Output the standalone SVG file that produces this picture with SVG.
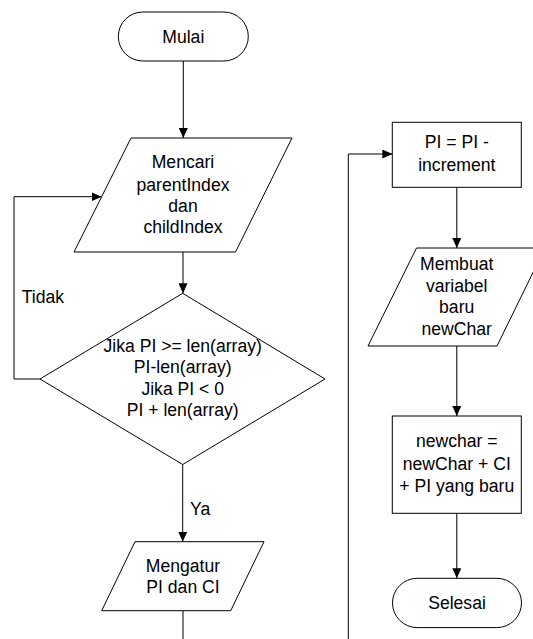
<svg xmlns="http://www.w3.org/2000/svg" width="533" height="639" viewBox="0 0 533 639">
<style>
.s{fill:#fff;stroke:#000;stroke-width:1}
.t{font-family:"Liberation Sans",Arial,sans-serif;font-size:17.6px;fill:#000;text-anchor:middle}
.l{font-family:"Liberation Sans",Arial,sans-serif;font-size:17.6px;fill:#000}
.c{fill:none;stroke:#000;stroke-width:1}
</style>
<defs>
<marker id="a" markerUnits="userSpaceOnUse" markerWidth="10" markerHeight="9" refX="10" refY="4.5" orient="auto">
<path d="M0,0 L10,4.5 L0,9 z" fill="#000"/>
</marker>
</defs>
<rect width="533" height="639" fill="#fff"/>
<g id="connectors">
<path class="c" d="M183.3,61 V138" marker-end="url(#a)"/>
<path class="c" d="M183,252 V293.3" marker-end="url(#a)"/>
<path class="c" d="M40,379 H14 V196.7 H101.6" marker-end="url(#a)"/>
<path class="c" d="M182.7,464.5 V541.7" marker-end="url(#a)"/>
<path class="c" d="M183,610.7 V639"/>
<path class="c" d="M348.3,639 V154 H392.3" marker-end="url(#a)"/>
<path class="c" d="M456.8,187.3 V248" marker-end="url(#a)"/>
<path class="c" d="M456.8,346 V416" marker-end="url(#a)"/>
<path class="c" d="M456.8,513.3 V578.3" marker-end="url(#a)"/>
<text class="l" x="21.7" y="303">Tidak</text>
<text class="l" x="190" y="515">Ya</text>
</g>
<g id="mulai">
<rect class="s" x="118.3" y="12" width="130" height="49" rx="24.5"/>
<text class="t" x="183.3" y="42.5">Mulai</text>
</g>
<g id="mencari">
<polygon class="s" points="131,138 292,138 235.5,252 74,252"/>
<text class="t" x="183" y="168.3">Mencari</text>
<text class="t" x="183" y="190.5">parentIndex</text>
<text class="t" x="183" y="211.7">dan</text>
<text class="t" x="183" y="233.3">childIndex</text>
</g>
<g id="keputusan">
<polygon class="s" points="182.7,293.3 325,379 182.7,464.5 40,379"/>
<text class="t" x="182.7" y="351.7">Jika PI &gt;= len(array)</text>
<text class="t" x="182.7" y="373.3">PI-len(array)</text>
<text class="t" x="182.7" y="394.5">Jika PI &lt; 0</text>
<text class="t" x="182.7" y="416">PI + len(array)</text>
</g>
<g id="mengatur">
<polygon class="s" points="135,541.7 264,541.7 230.7,610.7 101.7,610.7"/>
<text class="t" x="183" y="571.5">Mengatur</text>
<text class="t" x="183" y="593.3">PI dan CI</text>
</g>
<g id="pi-increment">
<rect class="s" x="392.3" y="122.3" width="129" height="65"/>
<text class="t" x="456.8" y="148.3">PI = PI -</text>
<text class="t" x="456.8" y="171">increment</text>
</g>
<g id="membuat">
<polygon class="s" points="416.5,248 545,248 497,346 368,346"/>
<text class="t" x="456.7" y="270">Membuat</text>
<text class="t" x="456.7" y="291.7">variabel</text>
<text class="t" x="456.7" y="313.3">baru</text>
<text class="t" x="456.7" y="335">newChar</text>
</g>
<g id="newchar">
<rect class="s" x="392.3" y="416" width="129" height="97.3"/>
<text class="t" x="456.8" y="447.3">newchar =</text>
<text class="t" x="456.8" y="469.8">newChar + CI</text>
<text class="t" x="456.8" y="491.7">+ PI yang baru</text>
</g>
<g id="selesai">
<rect class="s" x="392.5" y="578.3" width="129" height="49.3" rx="24.6"/>
<text class="t" x="457" y="609.3">Selesai</text>
</g>
</svg>
